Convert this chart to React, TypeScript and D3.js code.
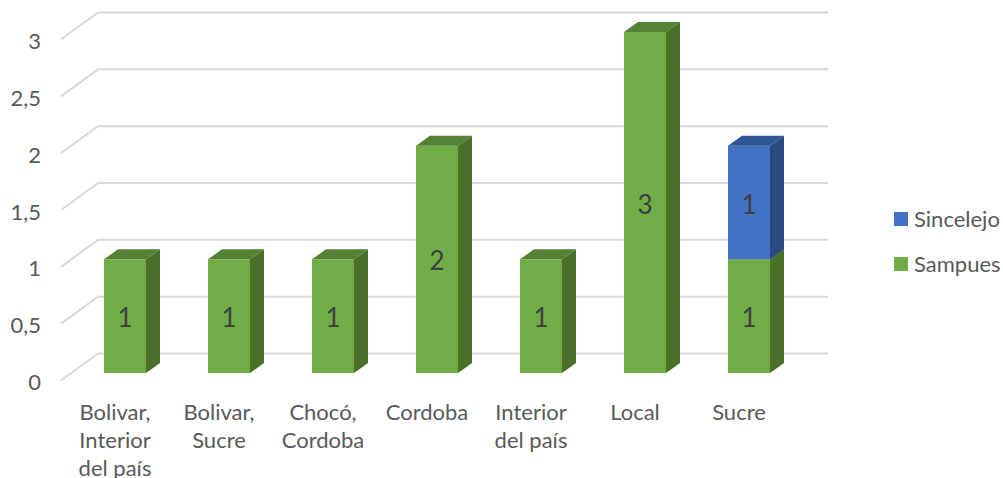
import React from "react";
import * as d3 from "d3";

const categories = [["Bolivar,", "Interior", "del país"], ["Bolivar,", "Sucre"], ["Chocó,", "Cordoba"], ["Cordoba"], ["Interior", "del país"], ["Local"], ["Sucre"]];
const sampues = [1, 1, 1, 2, 1, 3, 1];
const sincelejo = [0, 0, 0, 0, 0, 0, 1];
const ticks = [0, 0.5, 1, 1.5, 2, 2.5, 3];
const tickLabels = ["0", "0,5", "1", "1,5", "2", "2,5", "3"];
const seriesNames = ["Sincelejo", "Sampues"];

const GREEN = ["#70ad47", "#548235", "#4a7029"];
const BLUE = ["#4472c4", "#2f5597", "#2a4a80"];
const FONT = "Lato, 'Open Sans', sans-serif";
const TXT = "#595959";

const wallY = d3.scaleLinear().domain([0, 3]).range([353.5, 12.5]);
const barY = d3.scaleLinear().domain([0, 3]).range([373, 32]);
const x = d3.scaleBand<number>().domain(d3.range(7)).range([73, 801]).paddingInner(0.596).paddingOuter(0.298);
const DX = 14, DY = 10;

function Seg({ i, v0, v1, c }: { i: number; v0: number; v1: number; c: string[] }) {
  const l = x(i)!, r = l + x.bandwidth(), t = barY(v1), b = barY(v0);
  return (
    <g>
      <rect x={l} y={t} width={r - l} height={b - t} fill={c[0]} />
      <polygon points={`${l},${t} ${l + DX},${t - DY} ${r + DX},${t - DY} ${r},${t}`} fill={c[1]} />
      <polygon points={`${r},${t} ${r + DX},${t - DY} ${r + DX},${b - DY} ${r},${b}`} fill={c[2]} />
    </g>
  );
}

export default function App() {
  return (
    <svg width={1003} height={478} style={{ position: "absolute", left: 0, top: 0, background: "#fff" }} fontFamily={FONT}>
      {ticks.map((t, i) => (
        <g key={t}>
          <polyline points={`61,${wallY(t) + 27} 98,${wallY(t)} 828,${wallY(t)}`} fill="none" stroke="#d9d9d9" strokeWidth={2} />
          <text x={41} y={wallY(t) + 36.5} textAnchor="end" fontSize={22} fill={TXT}>{tickLabels[i]}</text>
        </g>
      ))}
      {categories.map((_, i) => (
        <g key={i}>
          <Seg i={i} v0={0} v1={sampues[i]} c={GREEN} />
          {sincelejo[i] > 0 && <Seg i={i} v0={sampues[i]} v1={sampues[i] + sincelejo[i]} c={BLUE} />}
        </g>
      ))}
      {categories.map((_, i) => {
        const cx = x(i)! + x.bandwidth() / 2;
        return (
          <g key={i} fontSize={26} fill="#404040" textAnchor="middle">
            <text x={cx} y={(barY(0) + barY(sampues[i])) / 2 + 11}>{sampues[i]}</text>
            {sincelejo[i] > 0 && <text x={cx} y={(barY(sampues[i]) + barY(sampues[i] + sincelejo[i])) / 2 + 11}>{sincelejo[i]}</text>}
          </g>
        );
      })}
      {categories.map((lines, i) => (
        <text key={i} textAnchor="middle" fontSize={22} fill={TXT}>
          {lines.map((s, j) => (
            <tspan key={j} x={x(i)! + x.bandwidth() / 2 - 10} y={420 + j * 28}>{s}</tspan>
          ))}
        </text>
      ))}
      {seriesNames.map((s, i) => (
        <g key={s}>
          <rect x={894} y={212 + i * 45} width={14} height={14} fill={i === 0 ? BLUE[0] : GREEN[0]} />
          <text x={914} y={227 + i * 45} fontSize={22} fill={TXT}>{s}</text>
        </g>
      ))}
    </svg>
  );
}
